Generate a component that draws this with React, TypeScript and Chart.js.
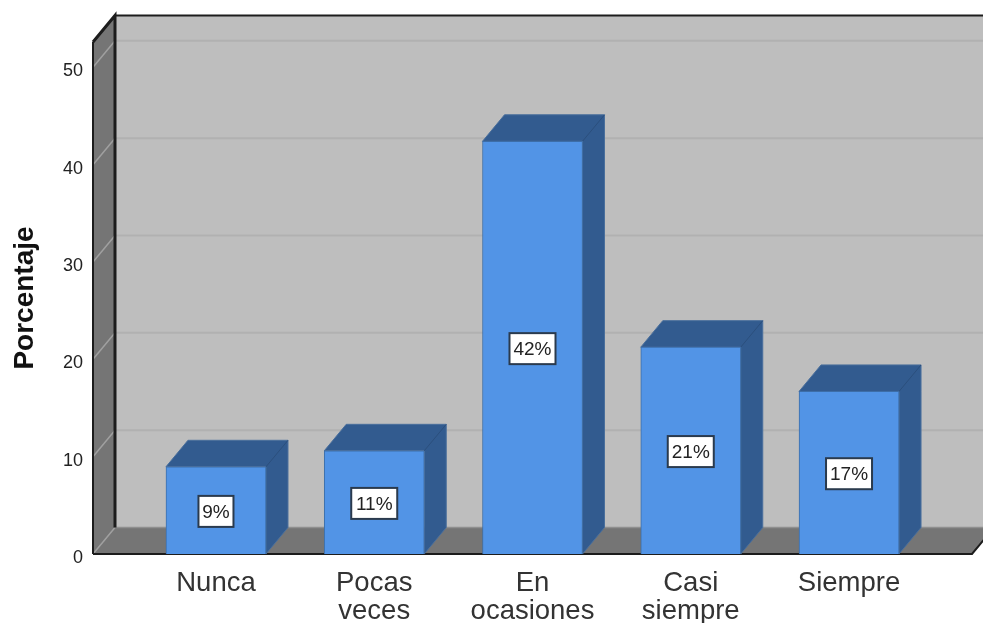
import React, { useEffect, useRef } from "react";
import { Chart, registerables } from "chart.js";

Chart.register(...registerables);

const categories = [["Nunca"], ["Pocas", "veces"], ["En", "ocasiones"], ["Casi", "siempre"], ["Siempre"]];
const positions = [0, 1, 2, 3, 4];
const values = [8.96, 10.6, 42.4, 21.25, 16.7];
const valueLabels = ["9%", "11%", "42%", "21%", "17%"];
const yTicks = [0, 10, 20, 30, 40, 50];

const DX = 22;
const DY = 26.5;
const FONT = '"Liberation Sans", Arial, sans-serif';

const threeD = {
  id: "threeD",
  beforeDraw(chart: any) {
    const { ctx, chartArea: a, scales } = chart;
    const y = scales.y;
    ctx.save();
    ctx.fillStyle = "#fff";
    ctx.fillRect(0, 0, chart.width, chart.height);
    // back wall
    ctx.fillStyle = "#bebebe";
    ctx.fillRect(a.left + DX, a.top - DY, a.width, a.height);
    // left wall
    ctx.fillStyle = "#757575";
    ctx.beginPath();
    ctx.moveTo(a.left, a.top);
    ctx.lineTo(a.left + DX, a.top - DY);
    ctx.lineTo(a.left + DX, a.bottom - DY);
    ctx.lineTo(a.left, a.bottom);
    ctx.closePath();
    ctx.fill();
    // floor
    ctx.beginPath();
    ctx.moveTo(a.left, a.bottom);
    ctx.lineTo(a.left + DX, a.bottom - DY);
    ctx.lineTo(a.right + DX, a.bottom - DY);
    ctx.lineTo(a.right, a.bottom);
    ctx.closePath();
    ctx.fill();
    // grid lines
    ctx.lineWidth = 1.5;
    for (const t of yTicks) {
      const p = y.getPixelForValue(t);
      ctx.strokeStyle = "#a0a0a0";
      ctx.beginPath();
      ctx.moveTo(a.left, p);
      ctx.lineTo(a.left + DX, p - DY);
      ctx.stroke();
      if (t > 0) {
        ctx.strokeStyle = "#b1b1b1";
        ctx.lineWidth = 2;
        ctx.beginPath();
        ctx.moveTo(a.left + DX, p - DY);
        ctx.lineTo(a.right + DX, p - DY);
        ctx.stroke();
        ctx.lineWidth = 1.5;
      }
    }
    ctx.strokeStyle = "#8f8f8f";
    ctx.beginPath();
    ctx.moveTo(a.left + DX, a.bottom - DY);
    ctx.lineTo(a.right + DX, a.bottom - DY);
    ctx.stroke();
    // outlines
    ctx.strokeStyle = "#1c1c1c";
    ctx.lineWidth = 3;
    ctx.beginPath();
    ctx.moveTo(a.left + DX, a.bottom - DY);
    ctx.lineTo(a.left + DX, a.top - DY);
    ctx.lineTo(a.left, a.top);
    ctx.stroke();
    ctx.lineWidth = 2;
    ctx.beginPath();
    ctx.moveTo(a.left, a.bottom);
    ctx.lineTo(a.left, a.top);
    ctx.moveTo(a.left + DX, a.top - DY);
    ctx.lineTo(a.right + DX, a.top - DY);
    ctx.stroke();
    ctx.beginPath();
    ctx.moveTo(a.left, a.bottom);
    ctx.lineTo(a.right, a.bottom);
    ctx.lineTo(a.right + DX, a.bottom - DY);
    ctx.stroke();
    ctx.restore();
  },
  beforeDatasetsDraw(chart: any) {
    const { ctx } = chart;
    const bars = chart.getDatasetMeta(0).data;
    ctx.save();
    ctx.fillStyle = "#325b8f";
    ctx.strokeStyle = "#4a6f9c";
    ctx.lineWidth = 1;
    for (const b of bars) {
      const l = b.x - b.width / 2;
      const r = b.x + b.width / 2;
      const t = b.y;
      const bt = b.base;
      ctx.beginPath();
      ctx.moveTo(l, t);
      ctx.lineTo(l + DX, t - DY);
      ctx.lineTo(r + DX, t - DY);
      ctx.lineTo(r + DX, bt - DY);
      ctx.lineTo(r, bt);
      ctx.lineTo(r, t);
      ctx.closePath();
      ctx.fill();
      ctx.stroke();
      ctx.strokeStyle = "#2b4f7d";
      ctx.beginPath();
      ctx.moveTo(r, t);
      ctx.lineTo(r + DX, t - DY);
      ctx.stroke();
      ctx.strokeStyle = "#4a6f9c";
    }
    ctx.restore();
  },
  afterDatasetsDraw(chart: any) {
    const { ctx } = chart;
    const bars = chart.getDatasetMeta(0).data;
    ctx.save();
    ctx.font = `19px ${FONT}`;
    ctx.textAlign = "center";
    ctx.textBaseline = "middle";
    bars.forEach((b: any, i: number) => {
      const cy = (b.y + b.base) / 2 + 1;
      const w = valueLabels[i].length > 2 ? 46 : 35;
      const h = 31;
      ctx.fillStyle = "#fff";
      ctx.strokeStyle = "#2a3a4d";
      ctx.lineWidth = 2;
      ctx.fillRect(b.x - w / 2, cy - h / 2, w, h);
      ctx.strokeRect(b.x - w / 2, cy - h / 2, w, h);
      ctx.fillStyle = "#222";
      ctx.fillText(valueLabels[i], b.x, cy + 1);
    });
    ctx.restore();
  },
};

export default function App() {
  const ref = useRef<HTMLCanvasElement>(null);
  useEffect(() => {
    const chart = new Chart(ref.current as HTMLCanvasElement, {
      type: "bar",
      data: {
        datasets: [
          {
            data: positions.map((x, i) => ({ x, y: values[i] })),
            backgroundColor: "#5294e6",
            borderColor: "#3d6ea8",
            borderWidth: 1,
            barThickness: 100,
          },
        ],
      },
      options: {
        animation: false,
        responsive: false,
        layout: { padding: { top: 42, right: 11, left: 0, bottom: 0 } },
        plugins: { legend: { display: false }, tooltip: { enabled: false }, title: { display: false } },
        scales: {
          x: {
            type: "linear",
            offset: false,
            min: -0.777,
            max: 4.777,
            grid: { display: false, drawTicks: false },
            border: { display: false },
            afterBuildTicks: (s: any) => {
              s.ticks = positions.map((value) => ({ value }));
            },
            afterFit: (s: any) => {
              s.height = 69;
            },
            ticks: {
              autoSkip: false,
              maxRotation: 0,
              padding: 15,
              color: "#333",
              font: { family: FONT, size: 27.5, lineHeight: 1.02 },
              callback: (v: any) => categories[v],
            },
          },
          y: {
            min: 0,
            max: 52.6,
            grid: { display: false, drawTicks: false },
            border: { display: false },
            afterBuildTicks: (s: any) => {
              s.ticks = yTicks.map((value) => ({ value }));
            },
            afterFit: (s: any) => {
              s.width = 93;
            },
            title: {
              display: true,
              text: "Porcentaje",
              color: "#111",
              font: { family: FONT, size: 28, weight: "bold" },
              padding: { top: 8, bottom: 0 },
            },
            ticks: {
              padding: 10,
              labelOffset: 4,
              color: "#222",
              font: { family: FONT, size: 18 },
            },
          },
        },
      } as any,
      plugins: [threeD],
    });
    return () => chart.destroy();
  }, []);
  return (
    <div style={{ position: "absolute", left: 0, top: 0, width: 983, height: 623, overflow: "hidden" }}>
      <canvas ref={ref} width={983} height={623} style={{ display: "block" }} />
    </div>
  );
}
